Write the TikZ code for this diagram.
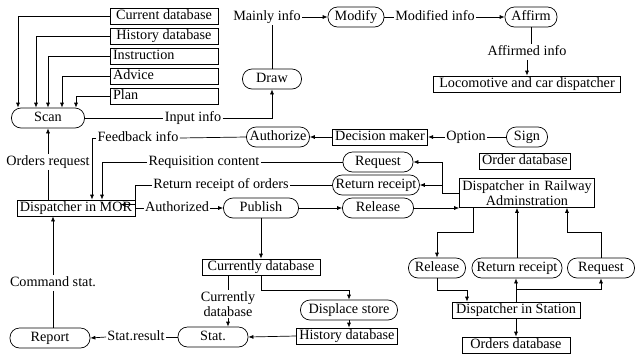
\documentclass[tikz,border=0pt]{standalone}
\usepackage{fontspec}
\setmainfont{Liberation Serif}
\usetikzlibrary{arrows.meta}

\begin{document}
\begin{tikzpicture}[x=1pt, y=-1pt, line width=0.7pt,
    >={Latex[length=5pt,width=4pt]},
    every node/.style={font=\fontsize{14.2}{15}\selectfont},
    txt/.style={text height=10pt, text depth=3pt},
    box/.style={txt, draw, inner xsep=3pt, inner ysep=1.5pt},
    oval/.style={txt, draw, rounded corners=9.5pt, inner xsep=3pt, inner ysep=3.5pt},
    lbl/.style={txt, inner xsep=1pt, inner ysep=1pt}]
    \useasboundingbox (0,0) rectangle (638,360);
    % data sources:
    \node[box, minimum width=108pt] (cdb) at (164,16) {Current database};
    \node[box, minimum width=108pt] (hdb) at (164,36) {History database};
    \node[box, text width=102pt, align=left] (ins) at (164,56) {Instruction};
    \node[box, text width=102pt, align=left] (adv) at (164,76) {Advice};
    \node[box, text width=102pt, align=left] (pln) at (164,96) {Plan};
    % scan and draw:
    \node[oval, minimum width=73pt] (scan) at (48,118) {Scan};
    \node[lbl] (inp) at (193,118) {Input info};
    \node[oval, minimum width=59pt] (drw) at (272,79) {Draw};
    \node[lbl] (mainly) at (267,17) {Mainly info};
    \node[oval, minimum width=56pt] (modify) at (356,17) {Modify};
    \node[lbl] (modinfo) at (435,17) {Modified info};
    \node[oval, minimum width=52pt] (affirm) at (531,17) {Affirm};
    \node[lbl] (affinfo) at (527,52) {Affirmed info};
    \node[box, minimum width=187pt] (loco) at (527,84) {Locomotive and car dispatcher};
    % decision:
    \node[lbl] (fbinfo) at (138,138) {Feedback info};
    \node[oval, minimum width=63pt] (authz) at (278,137) {Authorize};
    \node[box, minimum width=94pt] (decm) at (380,137) {Decision maker};
    \node[lbl] (opt) at (466,137) {Option};
    \node[oval, minimum width=41pt] (sign) at (527,137) {Sign};
    \node[box] (odb) at (525,161) {Order database};
    \node[lbl] (reqc) at (204,162) {Requisition content};
    \node[oval, minimum width=70pt] (reqa) at (378,162) {Request};
    \node[lbl] (rrorders) at (221,185) {Return receipt of orders};
    \node[oval, minimum width=78pt] (rreca) at (376,185) {Return receipt};
    % dispatchers:
    \node[box, minimum width=118pt] (mor) at (76,208) {Dispatcher in MOR};
    \node[lbl] (authd) at (177,208) {Authorized};
    \node[oval, minimum width=75pt] (pub) at (261,208) {Publish};
    \node[oval, minimum width=71pt] (rel) at (378,208) {Release};
    \node[draw, align=center, inner sep=2pt, text width=131pt] (rail) at (527,193) {Dispatcher in Railway\\Adminstration};
    \node[oval, minimum width=57pt] (rel2) at (437,268) {Release};
    \node[oval, minimum width=90pt] (rrec2) at (517,268) {Return receipt};
    \node[oval, minimum width=67pt] (req2) at (601,268) {Request};
    \node[box, minimum width=128pt] (sta) at (516,310) {Dispatcher in Station};
    \node[box, minimum width=108pt] (ordb) at (516,345) {Orders database};
    % statistics:
    \node[box, minimum width=118pt] (curdb) at (261,267) {Currently database};
    \node[align=center, inner sep=1pt] (curlbl) at (228,304) {Currently\\database};
    \node[oval, minimum width=70pt] (stat) at (213,337) {Stat.};
    \node[oval, minimum width=97pt] (disp) at (349,310) {Displace store};
    \node[box, minimum width=100pt] (histdb) at (347,336) {History database};
    \node[lbl] (sres) at (136,337) {Stat.result};
    \node[oval, minimum width=80pt] (rep) at (50,338) {Report};
    \node[lbl] (cmd) at (53,283) {Command stat.};
    \node[lbl] (ordreq) at (48,162) {Orders request};
    % connectors top:
    \foreach \src/\dx in {cdb/-30, hdb/-12, ins/0, adv/14, pln/28}
        \draw[->] (\src.west) -| ([xshift=\dx pt]scan.north);
    \draw (scan.east) -- (inp.west);
    \draw[->] (inp.east) -| (drw.south);
    \draw (drw.north) -- (drw.north |- mainly.south);
    \draw[->] (mainly.east) -- (modify.west);
    \draw (modify.east) -- (modinfo.west);
    \draw[->] (modinfo.east) -- (affirm.west);
    \draw (affirm.south) -- (affirm.south |- affinfo.north);
    \draw[->] (affinfo.south) -- (affinfo.south |- loco.north);
    % connectors middle:
    \draw (authz.west) -- (fbinfo.east);
    \draw[->] (fbinfo.west) -| ([xshift=16pt]mor.north);
    \draw[->] (decm.west) -- (authz.east);
    \draw (sign.west) -- (opt.east);
    \draw[->] (opt.west) -- (decm.east);
    \draw (reqa.west) -- (reqc.east);
    \draw[->] (reqc.west) -| ([xshift=26pt]mor.north);
    \draw (rreca.west) -- (rrorders.east);
    \draw[->] (rrorders.west) -- ++(-17,0) |- ([xshift=-15pt,yshift=-5pt]mor.north east);
    \draw (ordreq.south) -- (ordreq.south |- mor.north);
    \draw[->] (ordreq.north) -- (ordreq.north |- scan.south);
    \draw (mor.east) -- (authd.west);
    \draw[->] (authd.east) -- (pub.west);
    \draw[->] (pub.east) -- (rel.west);
    \draw[->] (rel.east) -- (rel.east -| rail.west);
    \draw[->] (rail.west) -- ++(-17,0) |- (reqa.east);
    \draw[->] ([xshift=-17pt]rail.west) |- (rreca.east);
    % connectors right:
    \draw[->] ([xshift=-54pt]rail.south) -- ++(0,24) -| (rel2.north);
    \draw[->] (rrec2.north) -- (rrec2.north |- rail.south);
    \draw[->] (req2.north) -- ++(0,-25) -| ([xshift=40pt]rail.south);
    \draw[->] (rel2.south) -- ++(0,12) -| ([xshift=-49pt]sta.north);
    \draw[->] (sta.north) -- (sta.north |- rrec2.south);
    \draw[->] ([yshift=12pt]sta.north) -| (req2.south);
    \draw[->] (sta.south) -- (ordb.north);
    % connectors bottom:
    \draw[->] (pub.south) -- (curdb.north);
    \draw ([xshift=-33pt]curdb.south) -- (curlbl.north);
    \draw[->] (curlbl.south) -- (curlbl.south |- stat.north);
    \draw[->] (curdb.south) -- ++(0,15) -| (disp.north);
    \draw[->] (disp.south) -- (disp.south |- histdb.north);
    \draw[->] (histdb.west) -- (stat.east);
    \draw (stat.west) -- (sres.east);
    \draw[->] (sres.west) -- (rep.east);
    \draw (cmd.south) -- (cmd.south |- rep.north);
    \draw[->] (cmd.north) -- (cmd.north |- mor.south);
\end{tikzpicture}
\end{document}
